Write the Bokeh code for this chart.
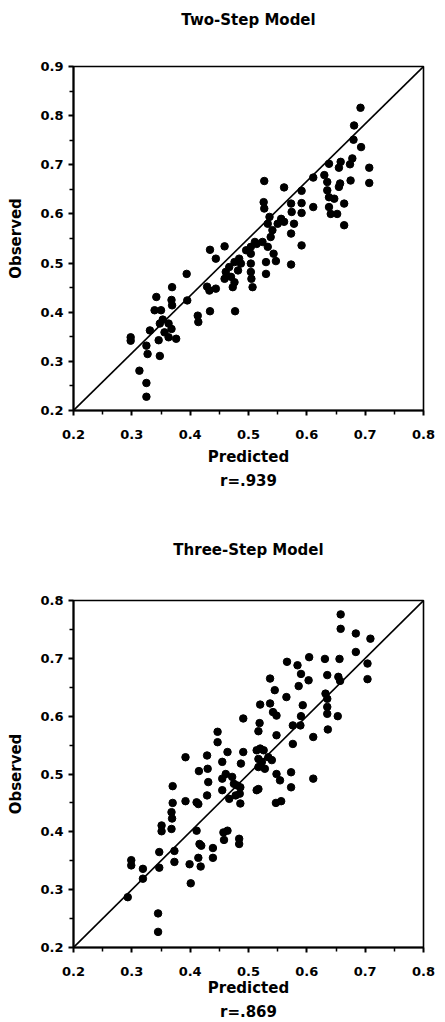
from bokeh.plotting import figure
from bokeh.models import Range1d, FixedTicker, PrintfTickFormatter, Title
from bokeh.layouts import column
from bokeh.embed import file_html
from bokeh.resources import INLINE

FONT = "DejaVu Sans"

# ---- data ----
two_step_title = "Two-Step Model"
two_step_r = "r=.939"
two_pred = [0.692, 0.681, 0.680, 0.693, 0.678, 0.674, 0.707, 0.707, 0.658, 0.655,
            0.638, 0.675, 0.657, 0.655, 0.630, 0.635, 0.635, 0.638, 0.647, 0.664,
            0.638, 0.641, 0.652, 0.664, 0.611, 0.611, 0.591, 0.591, 0.591, 0.561,
            0.573, 0.574, 0.561, 0.578, 0.573, 0.591, 0.573, 0.527, 0.526, 0.527,
            0.536, 0.533, 0.541, 0.538, 0.524, 0.533, 0.543, 0.547, 0.530, 0.530,
            0.550, 0.556, 0.504, 0.504, 0.504, 0.504, 0.505, 0.507, 0.496, 0.487,
            0.482, 0.476, 0.467, 0.461, 0.470, 0.459, 0.476, 0.473, 0.459, 0.434,
            0.444, 0.394, 0.429, 0.444, 0.433, 0.477, 0.434, 0.413, 0.414, 0.395,
            0.369, 0.342, 0.368, 0.369, 0.339, 0.350, 0.353, 0.363, 0.368, 0.348,
            0.376, 0.363, 0.356, 0.331, 0.346, 0.298, 0.298, 0.325, 0.327, 0.348,
            0.313, 0.325, 0.325, 0.511, 0.514, 0.484]
two_obs = [0.816, 0.780, 0.751, 0.736, 0.713, 0.701, 0.694, 0.663, 0.706, 0.694,
           0.702, 0.668, 0.662, 0.655, 0.679, 0.665, 0.648, 0.634, 0.631, 0.621,
           0.614, 0.600, 0.600, 0.577, 0.674, 0.614, 0.647, 0.622, 0.602, 0.654,
           0.621, 0.604, 0.584, 0.580, 0.560, 0.536, 0.497, 0.667, 0.624, 0.611,
           0.594, 0.580, 0.567, 0.553, 0.543, 0.533, 0.519, 0.504, 0.502, 0.478,
           0.580, 0.590, 0.533, 0.519, 0.499, 0.482, 0.468, 0.451, 0.526, 0.499,
           0.485, 0.502, 0.492, 0.482, 0.472, 0.468, 0.461, 0.451, 0.534, 0.527,
           0.509, 0.478, 0.452, 0.448, 0.444, 0.402, 0.402, 0.393, 0.380, 0.424,
           0.451, 0.431, 0.425, 0.414, 0.404, 0.404, 0.385, 0.377, 0.366, 0.377,
           0.346, 0.349, 0.359, 0.363, 0.343, 0.349, 0.342, 0.332, 0.315, 0.311,
           0.281, 0.256, 0.228, 0.543, 0.539, 0.509]

three_step_title = "Three-Step Model"
three_step_r = "r=.869"
three_pred = [0.658, 0.658, 0.684, 0.709, 0.684, 0.704, 0.704, 0.656, 0.654, 0.657,
              0.631, 0.635, 0.604, 0.566, 0.584, 0.590, 0.603, 0.586, 0.537, 0.545,
              0.565, 0.520, 0.537, 0.542, 0.548, 0.593, 0.590, 0.576, 0.589, 0.632,
              0.635, 0.635, 0.635, 0.653, 0.636, 0.611, 0.576, 0.611, 0.491, 0.519,
              0.517, 0.548, 0.447, 0.447, 0.464, 0.491, 0.514, 0.526, 0.517, 0.534,
              0.540, 0.517, 0.528, 0.487, 0.455, 0.429, 0.392, 0.415, 0.430, 0.461,
              0.472, 0.475, 0.486, 0.455, 0.431, 0.455, 0.485, 0.486, 0.467, 0.429,
              0.411, 0.414, 0.392, 0.514, 0.517, 0.548, 0.554, 0.573, 0.573, 0.547,
              0.556, 0.370, 0.370, 0.368, 0.369, 0.368, 0.351, 0.351, 0.411, 0.457,
              0.464, 0.458, 0.484, 0.484, 0.416, 0.419, 0.439, 0.439, 0.414, 0.399,
              0.418, 0.373, 0.373, 0.347, 0.347, 0.299, 0.299, 0.319, 0.319, 0.293,
              0.401, 0.345, 0.345, 0.478, 0.481, 0.520, 0.523]
three_obs = [0.776, 0.751, 0.743, 0.734, 0.711, 0.691, 0.664, 0.699, 0.668, 0.661,
             0.699, 0.671, 0.702, 0.694, 0.688, 0.673, 0.662, 0.652, 0.665, 0.645,
             0.633, 0.620, 0.622, 0.607, 0.601, 0.619, 0.600, 0.584, 0.584, 0.639,
             0.630, 0.616, 0.604, 0.600, 0.577, 0.564, 0.552, 0.492, 0.596, 0.588,
             0.574, 0.567, 0.573, 0.555, 0.538, 0.538, 0.541, 0.541, 0.526, 0.529,
             0.524, 0.512, 0.509, 0.518, 0.521, 0.532, 0.529, 0.505, 0.509, 0.500,
             0.495, 0.483, 0.477, 0.492, 0.486, 0.472, 0.466, 0.449, 0.457, 0.463,
             0.451, 0.448, 0.453, 0.472, 0.474, 0.500, 0.489, 0.503, 0.477, 0.450,
             0.453, 0.479, 0.450, 0.434, 0.423, 0.405, 0.411, 0.401, 0.402, 0.399,
             0.402, 0.386, 0.388, 0.379, 0.379, 0.376, 0.372, 0.355, 0.355, 0.344,
             0.340, 0.367, 0.348, 0.365, 0.338, 0.351, 0.342, 0.336, 0.319, 0.287,
             0.311, 0.259, 0.227, 0.463, 0.480, 0.544, 0.521]

x_ticks = [0.2, 0.3, 0.4, 0.5, 0.6, 0.7, 0.8]
y_ticks_two = [0.2, 0.3, 0.4, 0.5, 0.6, 0.7, 0.8, 0.9]
y_ticks_three = [0.2, 0.3, 0.4, 0.5, 0.6, 0.7, 0.8]


def minor(ticks):
    return [round((a + b) / 2, 3) for a, b in zip(ticks[:-1], ticks[1:])]


def make_plot(pred, obs, title, rtxt, yticks, height, mb,
              spacer_standoff, xlabel_standoff):
    left, right, top, bottom = mb
    xmin, xmax = x_ticks[0], x_ticks[-1]
    ymin, ymax = yticks[0], yticks[-1]
    p = figure(width=445, height=height, output_backend="svg", toolbar_location=None,
               x_range=Range1d(xmin, xmax), y_range=Range1d(ymin, ymax),
               min_border_left=left, min_border_right=right,
               min_border_top=top, min_border_bottom=bottom)
    p.grid.visible = False
    p.outline_line_color = "black"
    p.outline_line_width = 1.6
    p.background_fill_color = "white"
    p.border_fill_color = "white"

    # empty spacer between frame and title, pushes the title upward
    spacer = Title(text=" ", text_font_size="10px", standoff=spacer_standoff)
    p.add_layout(spacer, "above")

    p.title.text = title
    p.title.align = "center"
    p.title.text_font = FONT
    p.title.text_font_style = "bold"
    p.title.text_font_size = "15px"
    p.title.text_color = "black"
    p.title.standoff = 0

    p.xaxis.ticker = FixedTicker(ticks=x_ticks, minor_ticks=minor(x_ticks))
    p.yaxis.ticker = FixedTicker(ticks=yticks, minor_ticks=minor(yticks))
    for ax in (p.xaxis[0], p.yaxis[0]):
        ax.formatter = PrintfTickFormatter(format="%.1f")
        ax.axis_line_width = 2
        ax.axis_line_color = "black"
        ax.major_tick_line_width = 2
        ax.major_tick_line_color = "black"
        ax.minor_tick_line_width = 1.5
        ax.minor_tick_line_color = "black"
        ax.major_tick_in = 0
        ax.major_tick_out = 5
        ax.minor_tick_in = 0
        ax.minor_tick_out = 4
        ax.major_label_text_font = FONT
        ax.major_label_text_font_style = "bold"
        ax.major_label_text_font_size = "13px"
        ax.major_label_text_color = "black"
        ax.axis_label_text_font = FONT
        ax.axis_label_text_font_style = "bold"
        ax.axis_label_text_font_size = "15px"
        ax.axis_label_text_color = "black"
    p.xaxis.major_label_standoff = 14
    p.yaxis.major_label_standoff = 5
    p.xaxis.axis_label = "Predicted"
    p.yaxis.axis_label = "Observed"
    p.xaxis.axis_label_standoff = xlabel_standoff
    p.yaxis.axis_label_standoff = 12

    rt = Title(text=rtxt, align="center", text_font=FONT, text_font_style="bold",
               text_font_size="15px", text_color="black", standoff=3)
    p.add_layout(rt, "below")

    # diagonal reference line, corner to corner
    p.line([xmin, xmax], [ymin, ymax], line_color="black", line_width=1.6)
    p.scatter(pred, obs, marker="circle", size=7.5, fill_color="black",
              line_color="black")
    return p


p1 = make_plot(two_pred, two_obs, two_step_title, two_step_r,
               y_ticks_two, 500, (72, 22, 66, 90), 25, 6)
p2 = make_plot(three_pred, three_obs, three_step_title, three_step_r,
               y_ticks_three, 522, (73, 15, 100, 75), 29, 0)

layout = column(p1, p2, spacing=0)
open("out.html", "w").write(file_html(layout, INLINE))
